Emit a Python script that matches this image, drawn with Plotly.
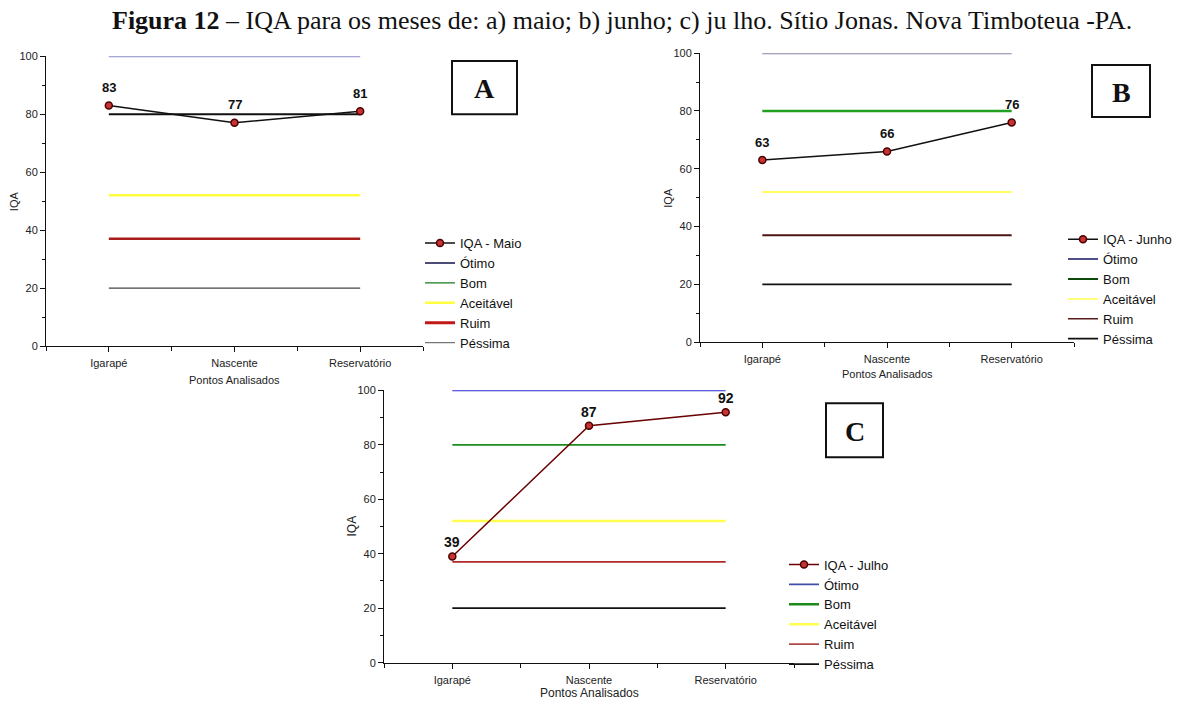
import plotly.graph_objects as go

W, H = 1191, 707

# ---------------- data ----------------
POINTS = ["Igarapé", "Nascente", "Reservatório"]
IQA_MAIO = [83, 77, 81]
IQA_JUNHO = [63, 66, 76]
IQA_JULHO = [39, 87, 92]

CLASS_NAMES = ["Ótimo", "Bom", "Aceitável", "Ruim", "Péssima"]
CLASS_LIMITS = [100, 80, 52, 37, 20]

Y_TICKS = [0, 20, 40, 60, 80, 100]

TITLE_BOLD = "Figura 12"
TITLE_REST = " – IQA para os meses de: a) maio; b) junho; c) ju lho. Sítio Jonas. Nova Timboteua -PA."

# styles per panel
PANELS = [
    dict(key="A", series="IQA - Maio", values=IQA_MAIO,
         xd=(46, 423), yd=(51, 346),
         draw=["#8a8ac8", "#111111", "#ffff40", "#a81c1c", "#444444"],
         widths=[2, 2, 2.5, 2.5, 1.2],
         leg=["#10104a", "#1a7a1a", "#ffff40", "#c01818", "#777777"],
         legw=[1.5, 1.2, 2.5, 3, 1.2],
         serieline="#111111",
         legend=dict(x=420, y=226, size=13),
         box=(452, 56, 517, 110), tickfont=11, titlefont=11, lab_size=13,
         lab_shift=18, xtitle_dy=34),
    dict(key="B", series="IQA - Junho", values=IQA_JUNHO,
         xd=(700, 1074), yd=(48, 342),
         draw=["#8585aa", "#22a022", "#ffff60", "#4e1414", "#111111"],
         widths=[2, 2.5, 2, 1.8, 1.8],
         leg=["#141460", "#0c4a0c", "#ffff50", "#5a1a1a", "#111111"],
         legw=[1.5, 2, 1.5, 1.5, 1.8],
         serieline="#111111",
         legend=dict(x=1063, y=222, size=13),
         box=(1092, 60, 1150, 113), tickfont=11, titlefont=11, lab_size=13,
         lab_shift=18, xtitle_dy=32),
    dict(key="C", series="IQA - Julho", values=IQA_JULHO,
         xd=(384, 794), yd=(391, 668),
         draw=["#2a2ad0", "#1a8c1a", "#ffff50", "#b02a2a", "#111111"],
         widths=[1.8, 1.8, 2.5, 1.8, 1.8],
         leg=["#4050a8", "#1a8a1a", "#ffff50", "#b04848", "#111111"],
         legw=[1.8, 2.5, 2.5, 1.8, 1.8],
         serieline="#6a0000",
         legend=dict(x=784, y=553, size=13),
         box=(826, 404, 883, 459), tickfont=11, titlefont=12, lab_size=14,
         lab_shift=14, xtitle_dy=31),
]


def px(x):
    return x / W


def py(y):
    return 1 - y / H


fig = go.Figure()
shapes = []
annotations = []
layout = {}

FONT = "Liberation Sans, Arial, sans-serif"
NARROW = "Liberation Sans Narrow, Arial Narrow, Liberation Sans, sans-serif"
SERIF = "Liberation Serif, Times New Roman, serif"

for i, p in enumerate(PANELS):
    n = i + 1
    xa = "x" if n == 1 else f"x{n}"
    ya = "y" if n == 1 else f"y{n}"
    lg = "legend" if n == 1 else f"legend{n}"
    idx = list(range(len(POINTS)))

    # threshold lines (drawn)
    for name, lim, col, w in zip(CLASS_NAMES, CLASS_LIMITS, p["draw"], p["widths"]):
        fig.add_trace(go.Scatter(
            x=[idx[0], idx[-1]], y=[lim, lim], mode="lines",
            line=dict(color=col, width=w), showlegend=False,
            xaxis=xa, yaxis=ya, hoverinfo="skip"))

    # series
    fig.add_trace(go.Scatter(
        x=idx, y=p["values"], mode="lines+markers", name=p["series"],
        line=dict(color=p["serieline"], width=1.5),
        marker=dict(symbol="circle", size=7, color="#c83232",
                    line=dict(color="#4a0000", width=1.5)),
        xaxis=xa, yaxis=ya, legend=lg))

    # data labels
    for xi, v in zip(idx, p["values"]):
        annotations.append(dict(
            x=xi, y=v, xref=xa, yref=ya, text=f"<b>{v}</b>", showarrow=False,
            xanchor="center", yanchor="middle", yshift=p["lab_shift"],
            font=dict(family=NARROW, size=p["lab_size"], color="#111111")))

    # legend-only entries with legend colours
    for name, col, w in zip(CLASS_NAMES, p["leg"], p["legw"]):
        fig.add_trace(go.Scatter(
            x=[None], y=[None], mode="lines", name=name,
            line=dict(color=col, width=w), xaxis=xa, yaxis=ya, legend=lg))

    axis_common = dict(showline=True, linecolor="#111111", linewidth=1,
                       ticks="outside", ticklen=5, tickcolor="#111111",
                       showgrid=False, zeroline=False,
                       tickfont=dict(family=FONT, size=p["tickfont"], color="#222222"))
    layout["xaxis" if n == 1 else f"xaxis{n}"] = dict(
        domain=[px(p["xd"][0]), px(p["xd"][1])], anchor=ya,
        range=[-0.5, len(POINTS) - 0.5], tickmode="array",
        tickvals=idx, ticktext=POINTS, ticklabelstandoff=2,
        minor=dict(tick0=-0.5, dtick=1, ticks="outside", ticklen=4,
                   tickcolor="#111111"),
        **axis_common)
    layout["yaxis" if n == 1 else f"yaxis{n}"] = dict(
        domain=[py(p["yd"][1]), py(p["yd"][0])], anchor=xa,
        range=[0, 100], tickmode="array", tickvals=Y_TICKS,
        minor=dict(dtick=10, ticks="outside", ticklen=3, tickcolor="#111111"),
        **axis_common)

    layout[lg] = dict(
        x=px(p["legend"]["x"]), y=py(p["legend"]["y"]),
        xanchor="left", yanchor="top", bgcolor="rgba(0,0,0,0)",
        font=dict(family=FONT, size=p["legend"]["size"], color="#111111"),
        tracegroupgap=0, itemwidth=30)

    # axis titles
    x0, x1 = p["xd"]
    y0, y1 = p["yd"]
    annotations.append(dict(
        text="IQA", x=px(x0 - 32), y=py((y0 + y1) / 2), xref="paper", yref="paper",
        xanchor="center", yanchor="middle", showarrow=False, textangle=-90,
        font=dict(family=FONT, size=p["titlefont"], color="#222222")))
    annotations.append(dict(
        text="Pontos Analisados", x=px((x0 + x1) / 2), y=py(y1 + p["xtitle_dy"]),
        xref="paper", yref="paper", xanchor="center", yanchor="middle",
        showarrow=False,
        font=dict(family=FONT, size=p["titlefont"], color="#222222")))

    # letter box
    bx0, by0, bx1, by1 = p["box"]
    shapes.append(dict(type="rect", xref="paper", yref="paper",
                       x0=px(bx0), x1=px(bx1), y0=py(by1), y1=py(by0),
                       line=dict(color="#111111", width=2), fillcolor="white"))
    annotations.append(dict(
        text=f"<b>{p['key']}</b>", x=px((bx0 + bx1) / 2), y=py((by0 + by1) / 2 + 1),
        xref="paper", yref="paper", xanchor="center", yanchor="middle",
        showarrow=False, font=dict(family=SERIF, size=28, color="#111111")))

annotations.append(dict(
    text=f"<b>{TITLE_BOLD}</b>{TITLE_REST}",
    x=px(622), y=py(15), xref="paper", yref="paper", xanchor="center",
    yanchor="middle", showarrow=False,
    font=dict(family=SERIF, size=26, color="#111111")))

fig.update_layout(
    width=W, height=H, margin=dict(l=0, r=0, t=0, b=0),
    paper_bgcolor="white", plot_bgcolor="rgba(0,0,0,0)",
    shapes=shapes, annotations=annotations, **layout)

fig.write_html("out.html", config={"displayModeBar": False},
               post_script="document.body.style.margin='0';document.body.style.overflow='hidden';")
